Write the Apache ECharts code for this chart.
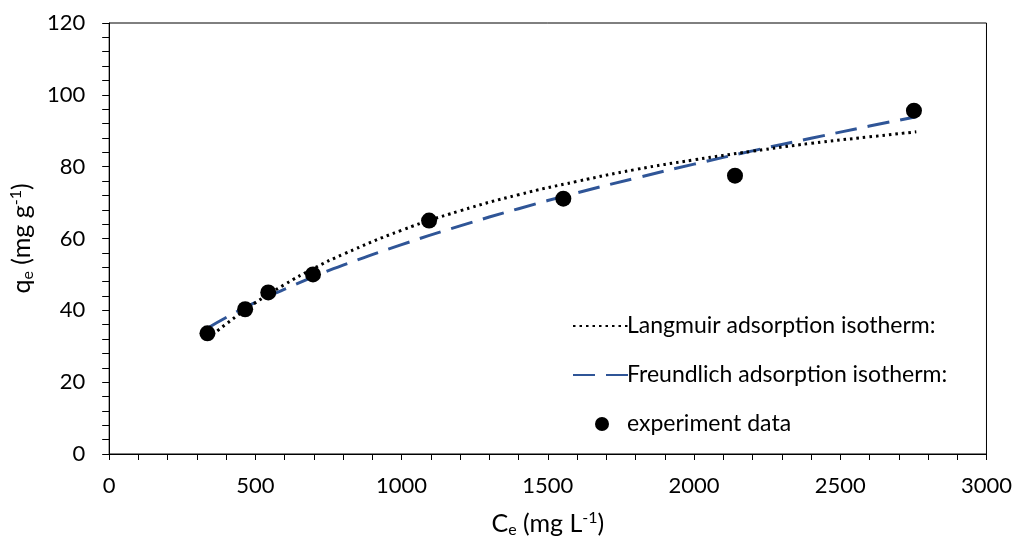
<!DOCTYPE html>
<html>
<head>
<meta charset="utf-8">
<script src="https://cdn.jsdelivr.net/npm/echarts@6/dist/echarts.min.js"></script>
<style>html,body{margin:0;padding:0;background:#fff;}#c{width:1015px;height:543px;}</style>
</head>
<body>
<div id="c"></div>
<script>
// experiment data
const expC = [336, 465, 544, 697, 1094, 1553, 2140, 2752];
const expQ = [33.6, 40.3, 45.0, 50.0, 65.0, 71.1, 77.5, 95.6];
// fitted curves
const curveC = [336, 400, 500, 600, 700, 800, 1000, 1200, 1400, 1600, 1800, 2000, 2200, 2400, 2600, 2760];
const langQ  = [32.0, 36.2, 42.1, 47.2, 51.7, 55.6, 62.3, 67.7, 72.2, 75.9, 79.2, 81.9, 84.3, 86.5, 88.3, 89.7];
const freuQ  = [35.0, 38.0, 42.2, 45.9, 49.4, 52.6, 58.3, 63.5, 68.3, 72.7, 76.8, 80.7, 84.4, 87.9, 91.3, 93.9];
const xTicks = [0, 500, 1000, 1500, 2000, 2500, 3000];
const yTicks = [0, 20, 40, 60, 80, 100, 120];
const names = ['Langmuir adsorption isotherm:', 'Freundlich adsorption isotherm:', 'experiment data'];

const FONT = 'Lato';
const pair = (xs, ys) => xs.map((x, i) => [x, ys[i]]);
const richTitle = {
  n: {fontSize: 25, fontFamily: FONT, color: '#000'},
  sub: {fontSize: 16, fontFamily: FONT, color: '#000', padding: [12, 0, 0, 0]},
  sup: {fontSize: 16, fontFamily: FONT, color: '#000', padding: [0, 0, 12, 0]}
};
const chart = echarts.init(document.getElementById('c'), null, {renderer: 'canvas'});
chart.setOption({
  backgroundColor: '#fff',
  animation: false,
  grid: {left: 107, right: 25, top: 23, bottom: 88, show: true, borderColor: '#000', borderWidth: 1, backgroundColor: 'transparent'},
  xAxis: {
    type: 'value', min: xTicks[0], max: xTicks[xTicks.length - 1], interval: 500,
    axisLine: {lineStyle: {color: '#000', width: 1}},
    axisTick: {show: true, inside: false, length: 6, lineStyle: {color: '#000'}},
    minorTick: {show: true, splitNumber: 5, length: 6, lineStyle: {color: '#000'}},
    splitLine: {show: false},
    axisLabel: {fontSize: 22, fontFamily: FONT, color: '#000', margin: 21, formatter: v => String(v)},
    name: '{n|C}{sub|e}{n| (mg L}{sup|-1}{n|)}',
    nameLocation: 'middle', nameGap: 56,
    nameTextStyle: {rich: richTitle}
  },
  yAxis: {
    type: 'value', min: yTicks[0], max: yTicks[yTicks.length - 1], interval: 20,
    axisLine: {show: true, lineStyle: {color: '#000', width: 1}},
    axisTick: {show: true, inside: false, length: 7, lineStyle: {color: '#000'}},
    minorTick: {show: true, splitNumber: 5, length: 7, lineStyle: {color: '#000'}},
    splitLine: {show: false},
    axisLabel: {fontSize: 22, fontFamily: FONT, color: '#000', margin: 24, formatter: v => String(v)},
    name: '{n|q}{sub|e}{n| (mg g}{sup|-1}{n|)}',
    nameLocation: 'middle', nameGap: 57, nameRotate: 90,
    nameTextStyle: {rich: richTitle}
  },
  legend: {
    orient: 'vertical', left: 567, top: 307,
    itemWidth: 58, itemHeight: 14, itemGap: 21,
    textStyle: {fontSize: 23, fontFamily: FONT, color: '#000', lineHeight: 28, padding: [0, 0, 0, -9]},
    data: [
      {name: names[0], itemStyle: {opacity: 0}},
      {name: names[1], itemStyle: {opacity: 0}},
      {name: names[2], icon: 'circle'}
    ]
  },
  series: [
    {
      name: names[0], type: 'line', data: pair(curveC, langQ), smooth: true, symbol: 'none',
      lineStyle: {color: '#000', width: 3, type: [2.5, 4], cap: 'butt'},
      itemStyle: {color: '#000'}, z: 3
    },
    {
      name: names[1], type: 'line', data: pair(curveC, freuQ), smooth: true, symbol: 'none',
      lineStyle: {color: '#2F5597', width: 3, type: [22, 11]},
      itemStyle: {color: '#2F5597'}, z: 2
    },
    {
      name: names[2], type: 'scatter', data: pair(expC, expQ), symbol: 'circle', symbolSize: 16,
      itemStyle: {color: '#000', opacity: 1}, z: 4
    }
  ]
});
</script>
</body>
</html>
